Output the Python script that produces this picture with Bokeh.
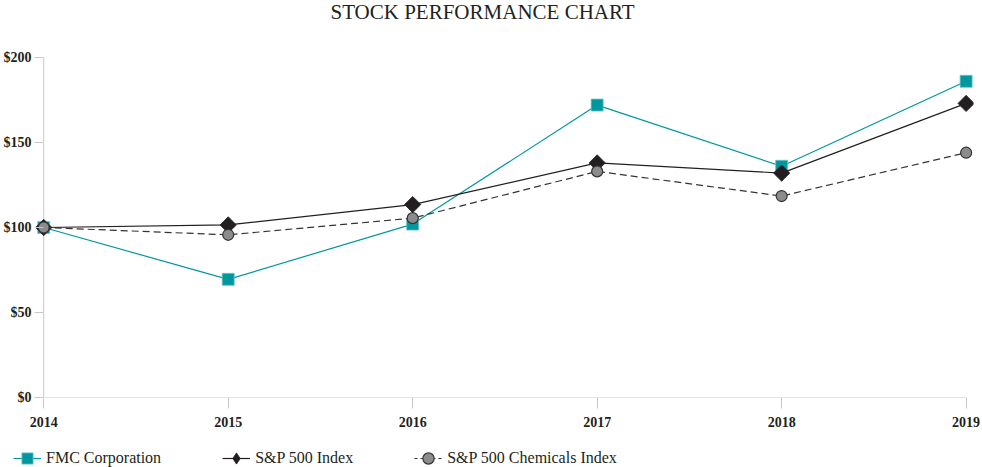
import math
from bokeh.plotting import figure
from bokeh.layouts import column
from bokeh.models import (Range1d, FixedTicker, PrintfTickFormatter, Legend, LegendItem, Label)
from bokeh.embed import file_html
from bokeh.resources import INLINE

years = [2014, 2015, 2016, 2017, 2018, 2019]
fmc = [100, 69.5, 102, 172, 136, 186]
sp500 = [100, 101.5, 113.5, 138, 132, 173]
chem = [100, 95.7, 105.5, 133, 118.5, 144]
y_ticks = [0, 50, 100, 150, 200]
labels = ["FMC Corporation", "S&P 500 Index", "S&P 500 Chemicals Index"]
title_text = "STOCK PERFORMANCE CHART"

FONT = "Liberation Serif"
INK = "#231f20"
TEAL = "#00979f"
AX = "#c8c8c8"
GRAY = "#8c8c8e"
DASH = "#333333"


def bare(h):
    f = figure(width=982, height=h, output_backend="svg", toolbar_location=None,
               x_range=Range1d(0, 1), y_range=Range1d(0, 1), x_axis_type=None,
               y_axis_type=None, min_border=0)
    f.outline_line_color = None
    f.xgrid.visible = False
    f.ygrid.visible = False
    return f


# title strip
t = bare(22)
t.add_layout(Label(x=448, y=11, x_units="screen", y_units="screen", text=title_text,
                   text_align="center", text_baseline="middle", text_font=FONT,
                   text_font_size="21px", text_color=INK))

p = figure(width=982, height=410, output_backend="svg", toolbar_location=None,
           x_range=Range1d(2013.95, 2019.04), y_range=Range1d(y_ticks[0], y_ticks[-1]),
           min_border_left=34, min_border_right=9, min_border_bottom=35,
           min_border_top=35)
p.outline_line_color = None
p.xgrid.visible = False
p.ygrid.visible = False

# axis lines drawn from the data extents
p.segment(x0=[years[0]], y0=[y_ticks[0]], x1=[years[0]], y1=[y_ticks[-1]],
          line_color=AX, line_width=1)
p.segment(x0=[years[0]], y0=[y_ticks[0]], x1=[years[-1]], y1=[y_ticks[0]],
          line_color=AX, line_width=1)

p.xaxis.ticker = FixedTicker(ticks=years)
p.yaxis.ticker = FixedTicker(ticks=y_ticks)
p.yaxis.formatter = PrintfTickFormatter(format="$%d")
for ax in (p.xaxis, p.yaxis):
    ax.axis_line_color = None
    ax.major_tick_line_color = AX
    ax.minor_tick_line_color = None
    ax.major_label_text_font = FONT
    ax.major_label_text_font_size = "14px"
    ax.major_label_text_color = INK
    ax.major_label_text_font_style = "bold"
p.xaxis.major_tick_in = 0
p.xaxis.major_tick_out = 11
p.xaxis.major_label_standoff = 8
p.yaxis.major_tick_in = 9
p.yaxis.major_tick_out = 0
p.yaxis.major_label_standoff = 3

sq_style = dict(marker="square", size=12, fill_color=TEAL, line_color="#6cc4c8", line_width=0.8)
di_style = dict(marker="square", angle=math.pi / 4, size=11.5, fill_color=INK,
                line_color=INK, line_width=0.8)
ci_style = dict(marker="circle", size=11, fill_color=GRAY, line_color=DASH, line_width=1.2)
l1_style = dict(line_color=TEAL, line_width=1.2)
l2_style = dict(line_color=INK, line_width=1.2)
l3_style = dict(line_color=DASH, line_width=1.2, line_dash="7 4")

p.line(years, fmc, **l1_style)
p.scatter(years, fmc, **sq_style)
p.line(years, sp500, **l2_style)
p.scatter(years, sp500, **di_style)
p.line(years, chem, **l3_style)
p.scatter(years, chem, **ci_style)

# legend strip below the chart; its renderers' data lie outside its 0..1 ranges,
# so they only supply the legend glyphs
q = bare(35)
r1 = [q.line(years, fmc, **l1_style), q.scatter(years, fmc, **sq_style)]
r2 = [q.line(years, sp500, **l2_style),
      q.scatter(years, sp500, marker="diamond", size=16, fill_color=INK,
                line_color=INK, line_width=0.8)]
r3 = [q.line(years, chem, line_color=DASH, line_width=1.2, line_dash="3 3"),
      q.scatter(years, chem, **ci_style)]
leg = Legend(items=[LegendItem(label=lab, renderers=rs)
                    for lab, rs in zip(labels, [r1, r2, r3])],
             location=(13, -6), orientation="horizontal", padding=0, margin=0,
             spacing=61, glyph_width=28, glyph_height=30, label_standoff=5,
             border_line_color=None, background_fill_alpha=0, label_text_font=FONT,
             label_text_font_size="16px", label_text_color=INK)
q.add_layout(leg, "center")

open("out.html", "w").write(file_html(column(t, p, column(q), spacing=0), INLINE))
